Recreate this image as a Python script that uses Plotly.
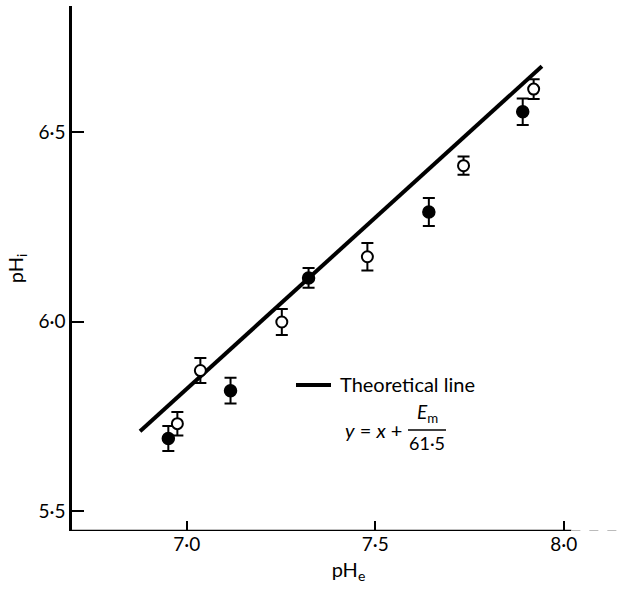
import plotly.graph_objects as go

# Data
filled_x = [6.951, 7.116, 7.323, 7.642, 7.891]
filled_y = [5.692, 5.818, 6.115, 6.289, 6.553]
filled_err = [0.033, 0.034, 0.026, 0.037, 0.035]

open_x = [6.975, 7.036, 7.252, 7.479, 7.734, 7.920]
open_y = [5.731, 5.871, 5.999, 6.171, 6.411, 6.613]
open_err = [0.031, 0.033, 0.034, 0.036, 0.024, 0.026]

line_x = [6.876, 7.942]
line_y = [5.711, 6.673]

x_ticks = [7.0, 7.5, 8.0]
x_ticklabels = ["7·0", "7·5", "8·0"]
y_ticks = [5.5, 6.0, 6.5]
y_ticklabels = ["5·5", "6·0", "6·5"]

X_RANGE = [6.6955, 8.1623]
Y_RANGE = [5.448, 6.832]

FONT = "Lato"

fig = go.Figure()

fig.add_trace(go.Scatter(x=line_x, y=line_y, mode="lines",
                         line=dict(color="black", width=4), showlegend=False))

fig.add_trace(go.Scatter(x=filled_x, y=filled_y, mode="markers",
                         marker=dict(color="black", size=12, line=dict(color="black", width=1.5)),
                         error_y=dict(type="data", array=filled_err, color="black", thickness=2, width=6),
                         showlegend=False))

fig.add_trace(go.Scatter(x=open_x, y=open_y, mode="markers",
                         marker=dict(color="white", size=11, line=dict(color="black", width=2)),
                         error_y=dict(type="data", array=open_err, color="black", thickness=2, width=6),
                         showlegend=False))

# x axis baseline (solid part then faint tail)
fig.add_shape(type="line", xref="x", yref="y", x0=X_RANGE[0], x1=8.02, y0=Y_RANGE[0], y1=Y_RANGE[0],
              line=dict(color="black", width=2.5))
fig.add_shape(type="line", xref="x", yref="y", x0=8.02, x1=X_RANGE[1] - 0.01, y0=Y_RANGE[0], y1=Y_RANGE[0],
              line=dict(color="#bbbbbb", width=2, dash="dash"))

# Legend: line sample + text
fig.add_shape(type="line", xref="paper", yref="paper",
              x0=(296 - 72) / 553, x1=(331 - 72) / 553,
              y0=(531 - 385) / 525, y1=(531 - 385) / 525,
              line=dict(color="black", width=4))

def px_annot(text, x, y, size=19, xanchor="left"):
    fig.add_annotation(text=text, xref="paper", yref="paper",
                       x=(x - 72) / 553, y=(531 - y) / 525,
                       xanchor=xanchor, yanchor="middle", showarrow=False,
                       font=dict(family=FONT, size=size, color="black"))

px_annot("Theoretical line", 338, 384, size=20)
px_annot("<i>y</i>&nbsp;= <i>x</i>&nbsp;+", 404, 430, size=20, xanchor="right")
px_annot("<i>E</i><sub>m</sub>", 427, 413, size=19, xanchor="center")
px_annot("61·5", 427, 443, size=18, xanchor="center")
fig.add_shape(type="line", xref="paper", yref="paper",
              x0=(408 - 72) / 553, x1=(446 - 72) / 553,
              y0=(531 - 430) / 525, y1=(531 - 430) / 525,
              line=dict(color="black", width=1.5))

fig.update_layout(
    width=630, height=590,
    margin=dict(l=72, r=5, t=6, b=59),
    paper_bgcolor="white", plot_bgcolor="white",
    font=dict(family=FONT, size=19, color="black"),
    xaxis=dict(range=X_RANGE, tickvals=x_ticks, ticktext=x_ticklabels,
               ticks="inside", ticklen=10, tickwidth=2, tickcolor="black",
               tickfont=dict(family=FONT, size=19),
               showline=False, showgrid=False, zeroline=False,
               title=dict(text="pH<sub>e</sub>", font=dict(family=FONT, size=20), standoff=8)),
    yaxis=dict(range=Y_RANGE, tickvals=y_ticks, ticktext=y_ticklabels,
               ticks="inside", ticklen=12, tickwidth=2, tickcolor="black",
               tickfont=dict(family=FONT, size=19),
               showline=True, linecolor="black", linewidth=2.5,
               showgrid=False, zeroline=False,
               title=dict(text="pH<sub>i</sub>", font=dict(family=FONT, size=20), standoff=10)),
)

fig.write_html("out.html")
